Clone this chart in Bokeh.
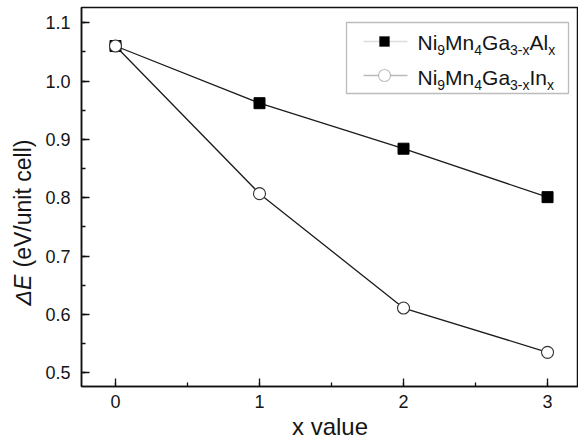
import math
from bokeh.plotting import figure
from bokeh.layouts import row
from bokeh.models import (Label, BoxAnnotation, PolyAnnotation,
                          SingleIntervalTicker, PrintfTickFormatter, Range1d)
from bokeh.embed import file_html
from bokeh.resources import INLINE

# ---------------- data ----------------
x_values = [0, 1, 2, 3]
al_values = [1.060, 0.962, 0.884, 0.801]   # Ni9Mn4Ga3-xAlx
in_values = [1.060, 0.807, 0.611, 0.535]   # Ni9Mn4Ga3-xInx
x_label_text = "x value"
y_label_italic = "ΔE"
y_label_rest = "(eV/unit cell)"
legend_al = [("Ni", False), ("9", True), ("Mn", False), ("4", True),
             ("Ga", False), ("3-x", True), ("Al", False), ("x", True)]
legend_in = [("Ni", False), ("9", True), ("Mn", False), ("4", True),
             ("Ga", False), ("3-x", True), ("In", False), ("x", True)]

FONT = "Liberation Sans"
TXT = "#151515"
LINE = "#1c1c1c"
BASE_SHIFT = 0.28    # empirical offset of the alphabetic baseline (em)

W_LEFT = 40          # strip holding the y-axis title


def blank(w, h):
    f = figure(width=w, height=h, output_backend="svg", toolbar_location=None,
               x_range=Range1d(0, 1), y_range=Range1d(0, 1),
               min_border=0, min_border_left=0, min_border_right=0,
               min_border_top=0, min_border_bottom=0)
    f.axis.visible = False
    f.grid.visible = False
    f.outline_line_color = None
    f.background_fill_color = "white"
    f.border_fill_color = "white"
    return f


# ---------------- main plot ----------------
p = figure(width=578 - W_LEFT, height=443, output_backend="svg",
           toolbar_location=None,
           x_range=Range1d(-0.236, 3.215), y_range=Range1d(0.4765, 1.126),
           min_border_left=81 - W_LEFT, min_border_right=0, min_border_top=7,
           min_border_bottom=443 - 386)
p.grid.visible = False
p.background_fill_color = "white"
p.border_fill_color = "white"
p.outline_line_color = "#111111"
p.outline_line_width = 1.5

p.xaxis.ticker = SingleIntervalTicker(interval=1, num_minor_ticks=2)
p.yaxis.ticker = SingleIntervalTicker(interval=0.1, num_minor_ticks=2)
p.yaxis.formatter = PrintfTickFormatter(format="%.1f")
for ax in (p.xaxis, p.yaxis):
    ax.axis_line_color = "#111111"
    ax.axis_line_width = 1.5
    ax.major_tick_in = 8
    ax.major_tick_out = 0
    ax.minor_tick_in = 4
    ax.minor_tick_out = 0
    ax.major_tick_line_color = "#111111"
    ax.minor_tick_line_color = "#111111"
    ax.major_tick_line_width = 1.3
    ax.minor_tick_line_width = 1.3
    ax.major_label_text_font = FONT
    ax.major_label_text_font_size = "18px"
    ax.major_label_text_color = TXT
p.xaxis.major_label_standoff = 8
p.yaxis.major_label_standoff = 11
p.xaxis.axis_label = x_label_text
p.xaxis.axis_label_text_font = FONT
p.xaxis.axis_label_text_font_size = "24px"
p.xaxis.axis_label_text_font_style = "normal"
p.xaxis.axis_label_text_color = TXT
p.xaxis.axis_label_standoff = 2

p.line(x_values, al_values, line_color=LINE, line_width=1.3)
p.line(x_values, in_values, line_color=LINE, line_width=1.3)
p.scatter(x_values, al_values, marker="square", size=11,
          fill_color="black", line_color="black")
p.scatter(x_values, in_values, marker="circle", size=12,
          fill_color="white", line_color="#333333", line_width=1.1)

# ---------------- legend (manual, for subscripts) ----------------
OX = W_LEFT  # x offset of main canvas within the page


def box(l, r, t, b, **kw):
    return BoxAnnotation(left=l - OX, right=r - OX, top=t, bottom=b,
                         left_units="canvas", right_units="canvas",
                         top_units="canvas", bottom_units="canvas", **kw)


def seg(x0, x1, y, color):
    return PolyAnnotation(xs=[x0 - OX, x1 - OX, x1 - OX, x0 - OX],
                          ys=[y, y, y, y], xs_units="canvas",
                          ys_units="canvas", fill_color=None,
                          line_color=color, line_width=1.3)


p.add_layout(box(346, 568, 22, 93, fill_color=None, line_color="#222222",
                 line_width=1.3))
p.add_layout(seg(363, 407, 41, "#8c8c8c"))
p.add_layout(seg(363, 407, 75, "#1c1c1c"))
p.add_layout(box(379, 389, 36, 46, fill_color="black", line_color="black",
                 fill_alpha=1))
p.add_layout(box(378, 390, 69, 81, fill_color="white",
                 line_color="#333333", line_width=1.1, fill_alpha=1,
                 border_radius=6))

WIDTHS = {"N": 0.722, "i": 0.222, "M": 0.833, "n": 0.556, "G": 0.778,
          "a": 0.556, "A": 0.667, "l": 0.222, "I": 0.278, "x": 0.5,
          "-": 0.333, "9": 0.556, "4": 0.556, "3": 0.556}


def legend_text(parts, x0, baseline):
    x = x0
    for txt, sub in parts:
        size = 14 if sub else 21
        y = baseline + (5 if sub else 0) - BASE_SHIFT * size
        p.add_layout(Label(x=x - OX, y=y, x_units="canvas", y_units="canvas",
                           text=txt, text_align="left",
                           text_baseline="alphabetic", text_font=FONT,
                           text_font_size=f"{size}px", text_color=TXT))
        x += sum(WIDTHS.get(c, 0.55) for c in txt) * size


legend_text(legend_al, 417, 48)
legend_text(legend_in, 417, 83)

# ---------------- y-axis title strip ----------------
left = blank(W_LEFT, 443)
YFS = 23
ybase_x, ystart = 29 - BASE_SHIFT * YFS, 305
left.add_layout(Label(x=ybase_x, y=ystart, x_units="canvas", y_units="canvas",
                      angle=math.pi / 2, text=y_label_italic,
                      text_align="left", text_baseline="alphabetic",
                      text_font=FONT, text_font_style="italic",
                      text_font_size=f"{YFS}px", text_color=TXT))
left.add_layout(Label(x=ybase_x, y=ystart - (1.334 + 0.278) * YFS - 1,
                      x_units="canvas", y_units="canvas", angle=math.pi / 2,
                      text=y_label_rest, text_align="left",
                      text_baseline="alphabetic", text_font=FONT,
                      text_font_size=f"{YFS}px", text_color=TXT))

layout = row(left, p, spacing=0)
open("out.html", "w").write(file_html(layout, INLINE))
